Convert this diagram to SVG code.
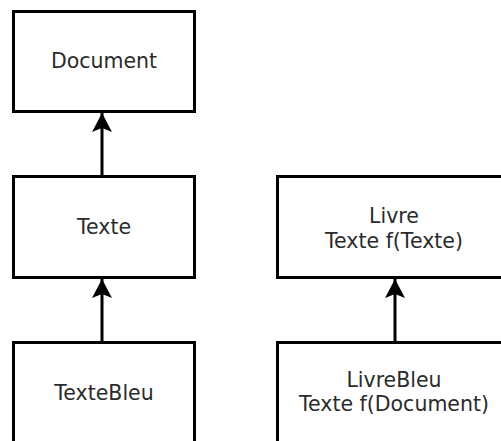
<svg xmlns="http://www.w3.org/2000/svg" width="501" height="441" viewBox="0 0 501 441">
  <style>
    .box { fill: #ffffff; stroke: #000000; stroke-width: 3; }
    .label { font-family: "DejaVu Sans", sans-serif; font-size: 20.5px; fill: #2b2b2b; text-anchor: middle; }
    .edge { stroke: #000000; stroke-width: 3; fill: none; }
  </style>
  <defs>
    <marker id="arrow" viewBox="0 0 20 20" refX="19" refY="10" markerWidth="20" markerHeight="20" markerUnits="userSpaceOnUse" orient="auto">
      <path d="M19,10 L0,0 L4,10 L0,20 Z" fill="#000000"/>
    </marker>
  </defs>
  <rect width="501" height="441" fill="#ffffff"/>

  <g id="connectors">
    <line class="edge" x1="102" y1="176.5" x2="102" y2="113" marker-end="url(#arrow)"/>
    <line class="edge" x1="102" y1="342.5" x2="102" y2="279" marker-end="url(#arrow)"/>
    <line class="edge" x1="395" y1="342.5" x2="395" y2="279" marker-end="url(#arrow)"/>
  </g>

  <g id="document">
    <rect class="box" x="13.5" y="11.5" width="181" height="100"/>
    <text class="label" x="104" y="68">Document</text>
  </g>

  <g id="texte">
    <rect class="box" x="13.5" y="176.5" width="181" height="101"/>
    <text class="label" x="104" y="234">Texte</text>
  </g>

  <g id="texteBleu">
    <rect class="box" x="13.5" y="342.5" width="181" height="120"/>
    <text class="label" x="104" y="400">TexteBleu</text>
  </g>

  <g id="livre">
    <rect class="box" x="277.5" y="176.5" width="235" height="101"/>
    <text class="label" x="394" y="223">Livre</text>
    <text class="label" x="394" y="248">Texte f(Texte)</text>
  </g>

  <g id="livreBleu">
    <rect class="box" x="277.5" y="342.5" width="235" height="120"/>
    <text class="label" x="394" y="387">LivreBleu</text>
    <text class="label" x="394" y="411">Texte f(Document)</text>
  </g>
</svg>
